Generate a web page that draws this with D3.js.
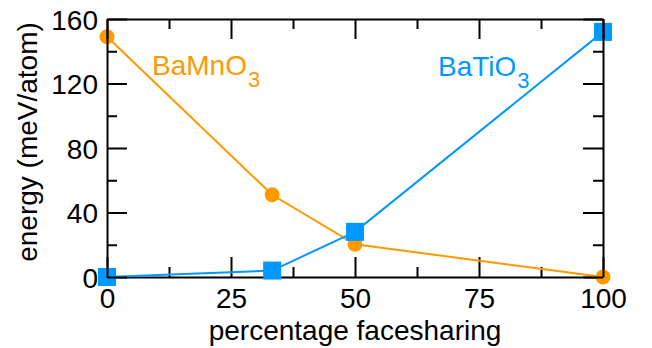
<!DOCTYPE html>
<html>
<head>
<meta charset="utf-8">
<script src="https://cdn.jsdelivr.net/npm/d3@7/dist/d3.min.js"></script>
<style>
  html, body { margin: 0; padding: 0; background: #fff; }
  svg { display: block; font-family: "Liberation Sans", Arial, Helvetica, sans-serif; }
</style>
</head>
<body>
<svg id="chart" width="652" height="348"></svg>
<script>
// Energy vs. fraction of face-sharing octahedra
const facesharing = [0, 33.3, 50, 100];
const bamno3 = [149, 51, 20.3, 0];
const batio3 = [0, 4, 28, 152];

const xMajor = [0, 25, 50, 75, 100];
const xMinor = [12.5, 37.5, 62.5, 87.5];
const yMajor = [0, 40, 80, 120, 160];
const yMinor = [20, 60, 100, 140];

const orange = "#ff9900";
const blue = "#0099ff";

const svg = d3.select("#chart");
const x = d3.scaleLinear().domain([0, 100]).range([107, 603]);
const y = d3.scaleLinear().domain([0, 160]).range([277, 19]);

const fontSize = 28;

function styleAxis(g) {
  g.selectAll("path.domain").attr("stroke", "#000").attr("stroke-width", 2);
  g.selectAll(".tick line").attr("stroke", "#000").attr("stroke-width", 2);
  g.selectAll("text").attr("font-size", fontSize).attr("fill", "#000")
    .attr("font-family", "'Liberation Sans', Arial, Helvetica, sans-serif");
}

// Bottom axis (drawn beneath the markers)
const bottom = svg.append("g").attr("transform", `translate(0,${y(0)})`)
  .call(d3.axisBottom(x).tickValues(xMajor).tickSizeInner(-20).tickSizeOuter(0).tickPadding(11).tickFormat(d3.format("d")))
  .call(styleAxis);
svg.append("g").attr("transform", `translate(0,${y(0)})`)
  .call(d3.axisBottom(x).tickValues(xMinor).tickSizeInner(-10).tickSizeOuter(0).tickFormat(""))
  .call(g => g.select("path.domain").remove())
  .call(styleAxis);

// Series lines and markers
const line = d3.line().x(d => x(d[0])).y(d => y(d[1]));
const mnPts = facesharing.map((f, i) => [f, bamno3[i]]);
const tiPts = facesharing.map((f, i) => [f, batio3[i]]);

svg.append("path").datum(mnPts).attr("d", line)
  .attr("fill", "none").attr("stroke", orange).attr("stroke-width", 2);
svg.append("g").selectAll("circle").data(mnPts).join("circle")
  .attr("cx", d => x(d[0])).attr("cy", d => y(d[1])).attr("r", 7.5)
  .attr("fill", orange);

svg.append("path").datum(tiPts).attr("d", line)
  .attr("fill", "none").attr("stroke", blue).attr("stroke-width", 2);
const sq = 18;
svg.append("g").selectAll("rect").data(tiPts).join("rect")
  .attr("x", d => x(d[0]) - sq / 2).attr("y", d => y(d[1]) - sq / 2)
  .attr("width", sq).attr("height", sq)
  .attr("fill", blue);

// Left, top and right axes on top of the markers
svg.append("g").attr("transform", `translate(${x(0)},0)`)
  .call(d3.axisLeft(y).tickValues(yMajor).tickSizeInner(-20).tickSizeOuter(0).tickPadding(9).tickFormat(d3.format("d")))
  .call(styleAxis)
  .call(g => g.selectAll("text").attr("dy", "0.36em"));
svg.append("g").attr("transform", `translate(${x(0)},0)`)
  .call(d3.axisLeft(y).tickValues(yMinor).tickSizeInner(-10).tickSizeOuter(0).tickFormat(""))
  .call(g => g.select("path.domain").remove())
  .call(styleAxis);

svg.append("g").attr("transform", `translate(0,${y(160)})`)
  .call(d3.axisTop(x).tickValues(xMajor).tickSizeInner(-20).tickSizeOuter(0).tickFormat(""))
  .call(styleAxis);
svg.append("g").attr("transform", `translate(0,${y(160)})`)
  .call(d3.axisTop(x).tickValues(xMinor).tickSizeInner(-10).tickSizeOuter(0).tickFormat(""))
  .call(g => g.select("path.domain").remove())
  .call(styleAxis);

svg.append("g").attr("transform", `translate(${x(100)},0)`)
  .call(d3.axisRight(y).tickValues(yMajor).tickSizeInner(-20).tickSizeOuter(0).tickFormat(""))
  .call(styleAxis);
svg.append("g").attr("transform", `translate(${x(100)},0)`)
  .call(d3.axisRight(y).tickValues(yMinor).tickSizeInner(-10).tickSizeOuter(0).tickFormat(""))
  .call(g => g.select("path.domain").remove())
  .call(styleAxis);

// Axis titles
svg.append("text")
  .attr("x", (x(0) + x(100)) / 2).attr("y", 340)
  .attr("text-anchor", "middle").attr("font-size", fontSize).attr("fill", "#000")
  .text("percentage facesharing");

svg.append("text")
  .attr("transform", "translate(37,142) rotate(-90)")
  .attr("text-anchor", "middle").attr("font-size", fontSize).attr("fill", "#000")
  .text("energy (meV/atom)");

// Series labels with subscripted formula
function formula(px, py, base, sub, color) {
  const t = svg.append("text").attr("x", px).attr("y", py)
    .attr("font-size", fontSize).attr("fill", color);
  t.append("tspan").text(base);
  t.append("tspan").attr("font-size", 22).attr("dx", 1).attr("dy", 12).text(sub);
}
formula(152, 75, "BaMnO", "3", orange);
formula(438, 76, "BaTiO", "3", blue);
</script>
</body>
</html>
